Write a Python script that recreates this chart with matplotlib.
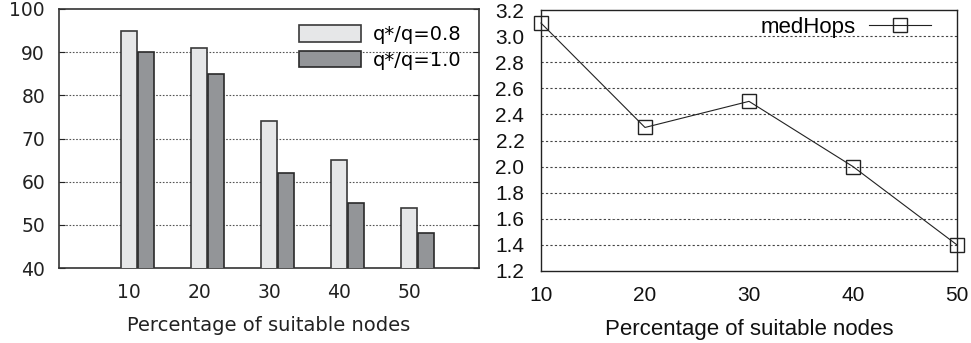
import matplotlib
matplotlib.use('Agg')
import matplotlib.pyplot as plt
import numpy as np

# left panel: bars
pct = [10, 20, 30, 40, 50]
q08 = [95, 91, 74, 65, 54]
q10 = [90, 85, 62, 55, 48]

# right panel: line
hops_x = [10, 20, 30, 40, 50]
med_hops = [3.1, 2.3, 2.5, 2.0, 1.4]

W, H = 971, 343
fig = plt.figure(figsize=(W / 100, H / 100), dpi=100)

def box(l, t, r, b):
    return [l / W, 1 - b / H, (r - l) / W, (b - t) / H]

# ---- left: histogram ----
ax1 = fig.add_axes(box(59, 9, 479, 268))
x = np.array(pct, dtype=float)
ax1.bar(x, q08, width=2.3, color='#e6e7e8', edgecolor='#3a3a3a',
        linewidth=1.2, label='q*/q=0.8', zorder=3)
ax1.bar(x + 2.4, q10, width=2.3, color='#939598', edgecolor='#2a2a2a',
        linewidth=1.2, label='q*/q=1.0', zorder=3)
ax1.set_xlim(0, 60)
ax1.set_ylim(40, 100)
ax1.set_xticks(pct)
ax1.set_yticks(range(40, 101, 10))
for y in range(50, 100, 10):
    ax1.axhline(y, color='#555555', lw=0.8, ls=(0, (1.5, 1.5)), zorder=1)
ax1.tick_params(axis='both', labelsize=13.5, colors='#222222', direction='in',
                length=4, right=True, top=False, bottom=False)
ax1.tick_params(axis='x', pad=11)
ax1.tick_params(axis='y', pad=10)
for s in ax1.spines.values():
    s.set_color('#333333')
    s.set_linewidth(1.2)
ax1.set_xlabel('Percentage of suitable nodes', fontsize=14, color='#222222',
               labelpad=10)
ax1.legend(loc='upper right', frameon=False, fontsize=14, handlelength=3.2,
           handleheight=0.9, handletextpad=0.6, labelspacing=0.35,
           borderaxespad=0.3, bbox_to_anchor=(0.99, 0.99))

# ---- right: line ----
ax2 = fig.add_axes(box(541, 10, 957, 271))
ax2.plot(hops_x, med_hops, color='#222222', lw=0.8, marker='s', markersize=10,
         markerfacecolor='none', markeredgecolor='#222222', markeredgewidth=1.0,
         label='medHops', clip_on=False, zorder=3)
ax2.set_xlim(10, 50)
ax2.set_ylim(1.2, 3.2)
ax2.set_xticks(hops_x)
ax2.set_yticks(np.arange(1.2, 3.21, 0.2))
ax2.set_yticklabels(['%.1f' % v for v in np.arange(1.2, 3.21, 0.2)])
for y in np.arange(1.4, 3.1, 0.2):
    ax2.axhline(y, color='#444444', lw=0.8, ls=(0, (2, 2)), zorder=1)
for lab in ax2.get_xticklabels() + ax2.get_yticklabels():
    lab.set_family('Liberation Sans')
ax2.tick_params(axis='both', labelsize=15, colors='#111111', length=0)
ax2.tick_params(axis='x', pad=11)
ax2.tick_params(axis='y', pad=12)
for s in ax2.spines.values():
    s.set_color('#222222')
    s.set_linewidth(1.0)
ax2.set_xlabel('Percentage of suitable nodes', fontsize=16,
               family='Liberation Sans', color='#111111', labelpad=10)
ax2.legend(loc='upper right', frameon=False,
           prop={'family': 'Liberation Sans', 'size': 16},
           markerfirst=False, handlelength=2.8, handletextpad=0.6,
           borderaxespad=0.2, bbox_to_anchor=(0.97, 1.025))

fig.savefig('out.png', dpi=100)
